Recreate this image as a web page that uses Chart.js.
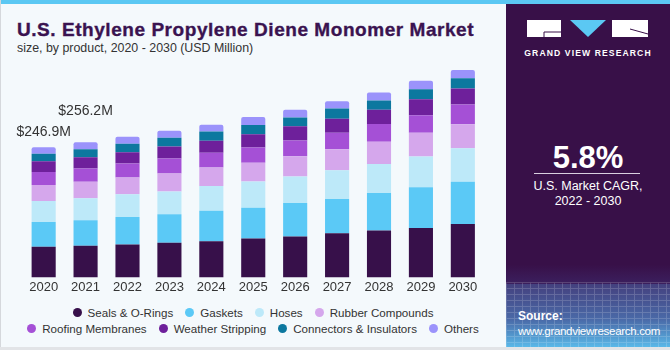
<!DOCTYPE html>
<html>
<head>
<meta charset="utf-8">
<script src="https://cdn.jsdelivr.net/npm/chart.js@4.4.1/dist/chart.umd.min.js"></script>
<style>
  html, body { margin:0; padding:0; }
  body { width:670px; height:350px; position:relative; overflow:hidden; background:#f4f9fc; font-family:"Liberation Sans", Arial, sans-serif; }
  #leftBorder { position:absolute; left:0; top:0; width:1px; height:350px; background:#d5d8dc; }
  #bottomBorder { position:absolute; left:0; top:347px; width:670px; height:3px; background:#e2e4e7; }
  #topStrip { position:absolute; left:0; top:0; width:670px; height:4px; background:#5bc8f3; }
  #title { position:absolute; left:17px; top:19px; font-size:19px; font-weight:bold; color:#3a1350; white-space:nowrap; letter-spacing:0.55px; -webkit-text-stroke:0.35px #3a1350; }
  #subtitle { position:absolute; left:17px; top:41px; font-size:12.4px; color:#333; white-space:nowrap; }
  #chartWrap { position:absolute; left:0; top:0; width:506px; height:300px; }
  #legend { position:absolute; left:0; top:304px; width:506px; font-size:11.6px; color:#333; }
  .lrow { display:flex; justify-content:center; white-space:nowrap; height:16.5px; align-items:center; }
  .litem { display:flex; align-items:center; margin:0 6px; }
  .ldot { width:9px; height:9px; border-radius:50%; margin-right:6px; }
  #panel { position:absolute; left:506px; top:4px; width:164px; height:343px; background:linear-gradient(to bottom, #381048 0%, #381048 76%, #3b1f5e 81.5%, #44407e 81.6%, #4a6aa8 92%, #5ab8e8 100%); overflow:hidden; }
  #grid { position:absolute; left:0; top:278px; width:164px; height:65px; opacity:0.18;
    background-image: linear-gradient(to right, rgba(255,255,255,0.9) 1px, transparent 1px), linear-gradient(to bottom, rgba(255,255,255,0.9) 1px, transparent 1px);
    background-size: 8px 6px; }
  #logoText { position:absolute; left:0; width:164px; top:44px; text-align:center; color:#fff; font-size:8.6px; font-weight:bold; letter-spacing:1.1px; }
  #cagr { position:absolute; left:0; width:164px; top:136px; text-align:center; color:#fff; font-size:31px; font-weight:bold; }
  #cagrLine { position:absolute; left:28px; top:169px; width:106px; height:1px; background:#d8cfe0; }
  #cagrText { position:absolute; left:0; width:164px; top:175px; text-align:center; color:#fff; font-size:12.5px; line-height:15px; }
  #source { position:absolute; left:12px; top:305px; color:#fff; font-size:11.6px; line-height:13.5px; letter-spacing:-0.35px; }
</style>
</head>
<body>
<div id="topStrip"></div>
<div id="leftBorder"></div>
<div id="title">U.S. Ethylene Propylene Diene Monomer Market</div>
<div id="subtitle">size, by product, 2020 - 2030 (USD Million)</div>
<div id="chartWrap"><canvas id="c" width="506" height="300"></canvas></div>
<div id="legend"></div>
<div id="panel">
  <div id="grid"></div>
  <svg style="position:absolute;left:21px;top:16px" width="122" height="18" viewBox="0 0 122 18">
    <rect x="0" y="0" width="34" height="17" fill="#fff"/>
    <path d="M17 12 H34 M17 12 V17" stroke="#381048" stroke-width="1" fill="none"/>
    <polygon points="43,0 79,0 61,17" fill="#5bc8f3"/>
    <rect x="85" y="0" width="36" height="17" fill="#fff"/>
    <path d="M103 9 L121 14" stroke="#381048" stroke-width="1" fill="none"/>
  </svg>
  <div id="logoText">GRAND VIEW RESEARCH</div>
  <div id="cagr">5.8%</div>
  <div id="cagrLine"></div>
  <div id="cagrText">U.S. Market CAGR,<br>2022 - 2030</div>
  <div id="source"><b style="letter-spacing:0;font-size:12px">Source:</b><br>www.grandviewresearch.com</div>
</div>
<div id="bottomBorder"></div>
<script>
const years = ["2020","2021","2022","2023","2024","2025","2026","2027","2028","2029","2030"];
const seriesNames = ["Seals & O-Rings","Gaskets","Hoses","Rubber Compounds","Roofing Membranes","Weather Stripping","Connectors & Insulators","Others"];
const seriesColors = ["#37104a","#5bc9f6","#bde9f9","#d5a7ec","#a550d6","#6e209b","#0c789f","#9b93fb"];
const sealsORings = [58.0,59.9,62.3,65.5,68.6,73.7,77.4,83.7,88.8,93.9,101.4];
const gaskets = [47.2,48.5,52.3,54.2,58.0,58.6,63.7,64.8,71.2,76.9,79.9];
const hoses = [39.7,41.6,42.9,43.4,46.7,49.7,50.4,54.8,55.3,58.6,63.7];
const rubberCompounds = [30.2,31.5,32.1,34.0,35.3,35.3,38.3,39.7,42.1,44.8,45.3];
const roofingMembranes = [24.6,25.1,26.4,28.3,27.8,28.9,29.7,31.5,33.4,33.4,37.8];
const weatherStripping = [20.8,21.3,21.3,22.7,22.7,25.1,27.0,26.4,27.0,30.2,30.2];
const connectorsInsulators = [13.8,15.1,16.4,17.0,17.6,17.6,17.0,19.5,17.6,18.9,19.5];
const others = [12.6,13.2,13.2,13.2,12.6,15.1,14.5,13.8,15.1,16.4,15.7];
const totalLabels = ["$246.9M","$256.2M"];

const seriesData = [sealsORings,gaskets,hoses,rubberCompounds,roofingMembranes,weatherStripping,connectorsInsulators,others];

const datasets = seriesNames.map((name,i)=>({
  label: name,
  data: seriesData[i],
  backgroundColor: seriesColors[i],
  borderWidth: 0,
  borderRadius: i === seriesNames.length-1 ? {topLeft:2, topRight:2, bottomLeft:0, bottomRight:0} : 0,
  borderSkipped: false,
  barPercentage: 0.575,
  categoryPercentage: 1.0
}));

// HTML legend built from series names/colors
const legend = document.getElementById('legend');
[[0,1,2,3],[4,5,6,7]].forEach(row=>{
  const r = document.createElement('div'); r.className='lrow';
  row.forEach(i=>{
    const it = document.createElement('div'); it.className='litem';
    const d = document.createElement('span'); d.className='ldot'; d.style.background=seriesColors[i];
    const t = document.createElement('span'); t.textContent=seriesNames[i];
    it.appendChild(d); it.appendChild(t); r.appendChild(it);
  });
  legend.appendChild(r);
});

const labelOffsets = [15, 31];
const totalsPlugin = {
  id:'totals',
  afterDatasetsDraw(chart){
    const ctx = chart.ctx;
    const meta = chart.getDatasetMeta(chart.data.datasets.length-1);
    ctx.save();
    ctx.font = '14px "Liberation Sans", Arial, sans-serif';
    ctx.fillStyle = '#333';
    ctx.textAlign = 'center';
    ctx.textBaseline = 'middle';
    totalLabels.forEach((txt,i)=>{
      const el = meta.data[i];
      ctx.fillText(txt, el.x, el.y - labelOffsets[i]);
    });
    ctx.restore();
  }
};

new Chart(document.getElementById('c'), {
  type:'bar',
  data:{ labels: years, datasets },
  options:{
    responsive:false,
    animation:false,
    layout:{ padding:{ left:22.7, right:22.2, top:66.5, bottom:3 } },
    plugins:{ legend:{display:false}, tooltip:{enabled:false} },
    scales:{
      x:{ stacked:true, grid:{display:false, drawTicks:false, tickLength:0}, border:{display:false},
          ticks:{ color:'#333', font:{ size:13, family:'"Liberation Sans", Arial, sans-serif' }, padding:2 } },
      y:{ stacked:true, display:false, min:0, max:400 }
    }
  },
  plugins:[totalsPlugin]
});
</script>
</body>
</html>
